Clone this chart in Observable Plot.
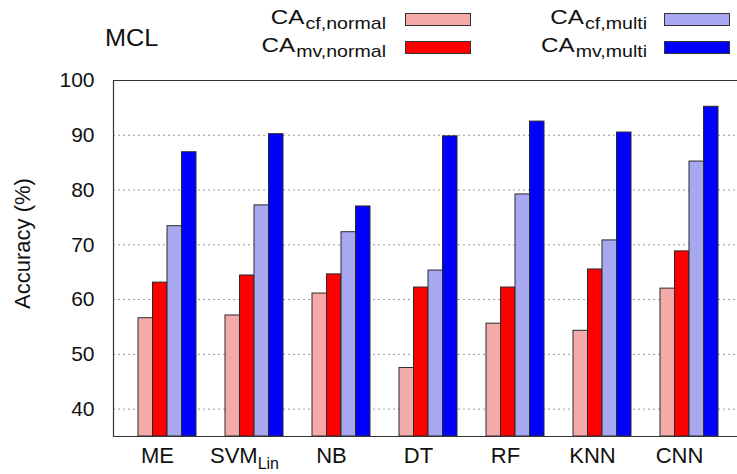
<!DOCTYPE html>
<html><head><meta charset="utf-8">
<script src="https://cdn.jsdelivr.net/npm/d3@7"></script>
<script src="https://cdn.jsdelivr.net/npm/@observablehq/plot@0.6"></script>
<style>
body{margin:0;background:#fff;font-family:"Liberation Sans",Arial,sans-serif;color:#111}
#wrap{position:relative;width:737px;height:474px;overflow:hidden;background:#fff}
#head{position:relative;height:60px}
.t{position:absolute;white-space:nowrap;line-height:1}
.lt{font-size:21px;text-align:right;transform:scaleX(1.15);transform-origin:right center}
.sub{font-size:17px;position:relative;top:5px;margin-left:1px}
.ttl{font-size:23px;transform:scaleX(1.1);transform-origin:left center}
.sw{position:absolute;width:64px;height:11px;border:1px solid #333}
</style></head><body>
<div id="wrap"><div id="head"></div><div id="chart"></div></div>
<script>
const categories = ["ME","SVM","NB","DT","RF","KNN","CNN"];
const categorySubscripts = {SVM: "Lin"};
const seriesNames = ["cf,normal","mv,normal","cf,multi","mv,multi"];
const seriesColors = ["#f5aaaa","#ff0000","#a8a8f0","#0000ff"];
const cfNormal = [56.6,57.1,61.1,47.5,55.6,54.3,62.0];
const mvNormal = [63.1,64.4,64.6,62.2,62.2,65.5,68.8];
const cfMulti  = [73.4,77.2,72.3,65.3,79.2,70.8,85.2];
const mvMulti  = [86.9,90.2,77.0,89.8,92.5,90.5,95.2];
const yTicks = [40,50,60,70,80,90,100];
const yDomain = [35,100];
const title = "MCL";
const yLabel = "Accuracy (%)";

const seriesValues = [cfNormal, mvNormal, cfMulti, mvMulti];
const rows = categories.flatMap((c, i) => seriesValues.map((vals, s) => ({category: c, series: s, value: vals[i]})));

// header: title + legend (HTML above the SVG)
const head = document.getElementById("head");
const addDiv = (cls, style, html) => { const d = document.createElement("div"); d.className = cls; d.style.cssText = style; d.innerHTML = html; head.appendChild(d); };
addDiv("t ttl", "left:105px;top:27px;", title);
const legendPos = [
  {textRight: 386, top: 6, boxLeft: 405, boxTop: 13},
  {textRight: 386, top: 34, boxLeft: 405, boxTop: 41},
  {textRight: 647, top: 6, boxLeft: 664, boxTop: 13},
  {textRight: 647, top: 34, boxLeft: 664, boxTop: 41}
];
seriesNames.forEach((name, s) => {
  const p = legendPos[s];
  addDiv("t lt", `left:0;width:${p.textRight}px;top:${p.top}px;`, `CA<span class="sub">${name}</span>`);
  addDiv("sw", `left:${p.boxLeft}px;top:${p.boxTop}px;background:${seriesColors[s]};`, "");
});

const xPaddingInner = 0.337, xPaddingOuter = 0.263;
const xRange = [113, 742];
const step = (xRange[1] - xRange[0]) / (categories.length - xPaddingInner + 2 * xPaddingOuter);
const bw = step * (1 - xPaddingInner);
const barW = bw / seriesNames.length;

const barMarks = seriesNames.map((name, s) => Plot.barY(rows.filter(d => d.series === s), {
  x: "category", y1: yDomain[0], y2: "value",
  fill: seriesColors[s], stroke: "#2a2a2a", strokeWidth: 1,
  insetLeft: s * barW, insetRight: (seriesNames.length - 1 - s) * barW
}));

const chart = Plot.plot({
  width: 737, height: 414,
  marginTop: 20, marginBottom: 38, marginLeft: 113, marginRight: 0,
  style: {fontFamily: '"Liberation Sans", Arial, sans-serif', color: "#111", background: "#fff"},
  x: {domain: categories, range: xRange, paddingInner: xPaddingInner, paddingOuter: xPaddingOuter},
  y: {domain: yDomain},
  marks: [
    Plot.gridY(yTicks.filter(t => t < yDomain[1]), {stroke: "#999", strokeOpacity: 1, strokeDasharray: "2,3"}),
    ...barMarks,
    Plot.ruleY(yDomain, {stroke: "#333", strokeWidth: 1.2}),
    Plot.frame({anchor: "left", stroke: "#333", strokeWidth: 1.2}),
    Plot.axisY(yTicks, {tickSize: 0, tickPadding: 19, fontSize: 21, label: null}),
    Plot.axisX({tickSize: 0, tickPadding: 11, fontSize: 22, dx: -10, label: null}),
    Plot.text([yLabel], {frameAnchor: "left", textAnchor: "middle", lineAnchor: "middle", rotate: -90, dx: -91, dy: -15, fontSize: 22, fill: "#111"})
  ]
});

// subscript on tick labels like SVM_Lin
d3.select(chart).selectAll("text").each(function() {
  const t = this.textContent;
  if (categorySubscripts[t] && this.childNodes.length === 1) {
    d3.select(this).append("tspan").attr("dy", 6).attr("font-size", 16).text(categorySubscripts[t]);
  }
});

document.getElementById("chart").appendChild(chart);
</script>
</body></html>
